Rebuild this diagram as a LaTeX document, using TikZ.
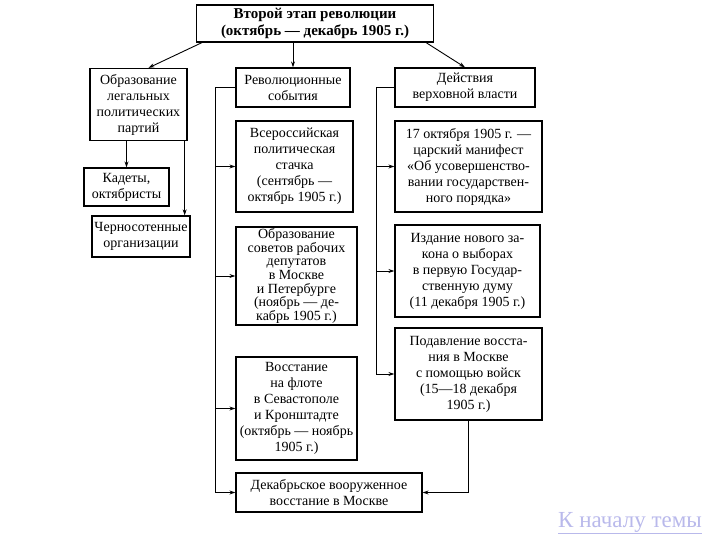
\documentclass[tikz,border=0pt]{standalone}
\usepackage{fontspec}
\setmainfont{Liberation Serif}
\usetikzlibrary{arrows.meta}
\definecolor{linkblue}{RGB}{185,185,235}

\tikzset{
	blk/.style={draw, line width=1.3pt, align=center, inner sep=1pt,
		font={\fontsize{14}{16}\selectfont}},
	link/.style={line width=0.9pt, -{Stealth[length=6pt,width=4pt]}},
	rail/.style={line width=0.9pt},
}

\begin{document}
\begin{tikzpicture}[x=1pt, y=-1pt]
	\useasboundingbox (0,0) rectangle (720,540);

	% head
	\node[blk, minimum width=237, minimum height=37, font={\fontsize{15}{17}\selectfont\bfseries}] (top) at (315,23.5)
		{Второй этап революции\\(октябрь — декабрь 1905 г.)};

	% parties column
	\node[blk, minimum width=97, minimum height=72] (party) at (138.5,104.5)
		{Образование\\легальных\\политических\\партий};
	\node[blk, minimum width=85, minimum height=38] (kadet) at (126.5,187)
		{Кадеты,\\октябристы};
	\node[blk, minimum width=98, minimum height=41] (black) at (141,236.5)
		{Черносотенные\\организации};

	% events column
	\node[blk, minimum width=114, minimum height=39] (events) at (293,87.5)
		{Революционные\\события};
	\node[blk, minimum width=117, minimum height=91] (strike) at (294.5,166.5)
		{Всероссийская\\политическая\\стачка\\(сентябрь —\\октябрь 1905 г.)};
	\node[blk, minimum width=121, minimum height=98, font={\fontsize{14}{13.6}\selectfont}] (soviet) at (296.5,276)
		{Образование\\советов рабочих\\депутатов\\в Москве\\и Петербурге\\(ноябрь — де-\\кабрь 1905 г.)};
	\node[blk, minimum width=121, minimum height=103] (fleet) at (296.5,408.5)
		{Восстание\\на флоте\\в Севастополе\\и Кронштадте\\(октябрь — ноябрь\\1905 г.)};
	\node[blk, minimum width=186, minimum height=39] (dec) at (329,492.5)
		{Декабрьское вооруженное\\восстание в Москве};

	% power column
	\node[blk, minimum width=140, minimum height=39] (power) at (465,87.5)
		{Действия\\верховной власти};
	\node[blk, minimum width=147, minimum height=91] (manif) at (468.5,166.5)
		{17 октября 1905 г. —\\царский манифест\\«Об усовершенство-\\вании государствен-\\ного порядка»};
	\node[blk, minimum width=145, minimum height=92] (duma) at (467.5,271)
		{Издание нового за-\\кона о выборах\\в первую Государ-\\ственную думу\\(11 декабря 1905 г.)};
	\node[blk, minimum width=147, minimum height=92] (crush) at (468.5,374)
		{Подавление восста-\\ния в Москве\\с помощью войск\\(15—18 декабря\\1905 г.)};

	% connectors from the head
	\draw[link] ([xshift=6]top.south west) -- ([xshift=10]party.north);
	\draw[link] (events.north |- top.south) -- (events.north);
	\draw[link] ([xshift=-8]top.south east) -- (power.north);

	% parties
	\draw[link] (party.south -| kadet.north) -- (kadet.north);
	\draw[link] ([xshift=-3]party.south east) -- ([xshift=-3]party.south east |- black.north);

	% left rail
	\coordinate (lrail) at (215,0);
	\draw[rail] (events.west) -- (lrail |- events.west) -- (lrail |- dec.west);
	\foreach \b in {strike,soviet,fleet,dec}
		\draw[link] (lrail |- \b.west) -- (\b.west);

	% right rail
	\coordinate (rrail) at (376,0);
	\draw[rail] (power.west) -- (rrail |- power.west) -- (rrail |- crush.west);
	\foreach \b in {manif,duma,crush}
		\draw[link] (rrail |- \b.west) -- (\b.west);
	\draw[link] (crush.south) |- (dec.east);

	% link back
	\node[text=linkblue, font={\fontsize{23}{25}\selectfont}] (back) at (630,523) {\underline{К началу темы}};
\end{tikzpicture}
\end{document}
